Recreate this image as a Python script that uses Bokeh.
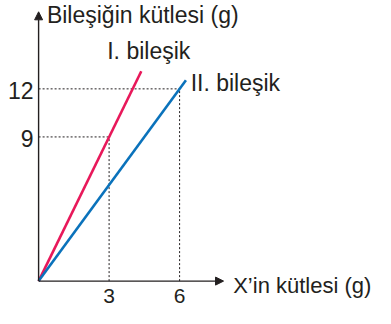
from bokeh.plotting import figure
from bokeh.models import Range1d, Arrow, NormalHead
from bokeh.core.properties import value
from bokeh.embed import file_html
from bokeh.resources import INLINE

# data
compound_names = ["I. bileşik", "II. bileşik"]
x_mass_I = [0, 4.37]
comp_mass_I = [0, 13.1]
x_mass_II = [0, 6.27]
comp_mass_II = [0, 12.54]
x_ticks = [3, 6]
y_ticks = [9, 12]
x_tick_labels = ["3", "6"]
y_tick_labels = ["9", "12"]
x_title = "X’in kütlesi (g)"
y_title = "Bileşiğin kütlesi (g)"

FONT = value("Liberation Sans")
INK = "#231f20"
RED = "#e8185a"
BLUE = "#0a72bb"

p = figure(width=375, height=308, output_backend="svg", toolbar_location=None,
           x_axis_type=None, y_axis_type=None, min_border=0,
           x_range=Range1d(-1.621, 14.336), y_range=Range1d(-1.71, 17.516))
p.grid.visible = False
p.outline_line_color = None
p.background_fill_color = "white"
p.border_fill_color = "white"

# guide (dotted) lines
for xv, yv in zip(x_ticks, y_ticks):
    p.line([0, xv], [yv, yv], line_color=INK, line_width=1, line_dash="2 2")
    p.line([xv, xv], [0, yv], line_color=INK, line_width=1, line_dash="2 2")

# data lines
p.line(x_mass_I, comp_mass_I, line_color=RED, line_width=2.6)
p.line(x_mass_II, comp_mass_II, line_color=BLUE, line_width=2.6)

# axes with arrows
p.add_layout(Arrow(end=NormalHead(size=8, fill_color=INK, line_color=INK, line_width=1),
                   x_start=0, y_start=0, x_end=7.87, y_end=0, line_color=INK, line_width=1.4))
p.add_layout(Arrow(end=NormalHead(size=8, fill_color=INK, line_color=INK, line_width=1),
                   x_start=0, y_start=0, x_end=0, y_end=16.81, line_color=INK, line_width=1.4))

# tick labels
p.text(x=x_ticks, y=[0, 0], text=x_tick_labels, text_font=FONT, text_font_size="21px",
       text_color=INK, text_align="center", text_baseline="middle", y_offset=14.5)
p.text(x=[0, 0], y=y_ticks, text=y_tick_labels, text_font=FONT, text_font_size="23px",
       text_color=INK, text_align="right", text_baseline="middle", x_offset=-5, y_offset=2)

# titles
p.text(x=[0.353], y=[16.63], text=[y_title], text_font=FONT, text_font_size="23px",
       text_color=INK, text_align="left", text_baseline="middle")
p.text(x=[8.28], y=[-0.256], text=[x_title], text_font=FONT, text_font_size="22px",
       text_color=INK, text_align="left", text_baseline="middle")

# series labels
p.text(x=[2.92, 6.47], y=[14.35, 12.38], text=compound_names, text_font=FONT,
       text_font_size="23px", text_color=INK, text_align="left", text_baseline="middle")

open("out.html", "w").write(file_html(p, INLINE))
